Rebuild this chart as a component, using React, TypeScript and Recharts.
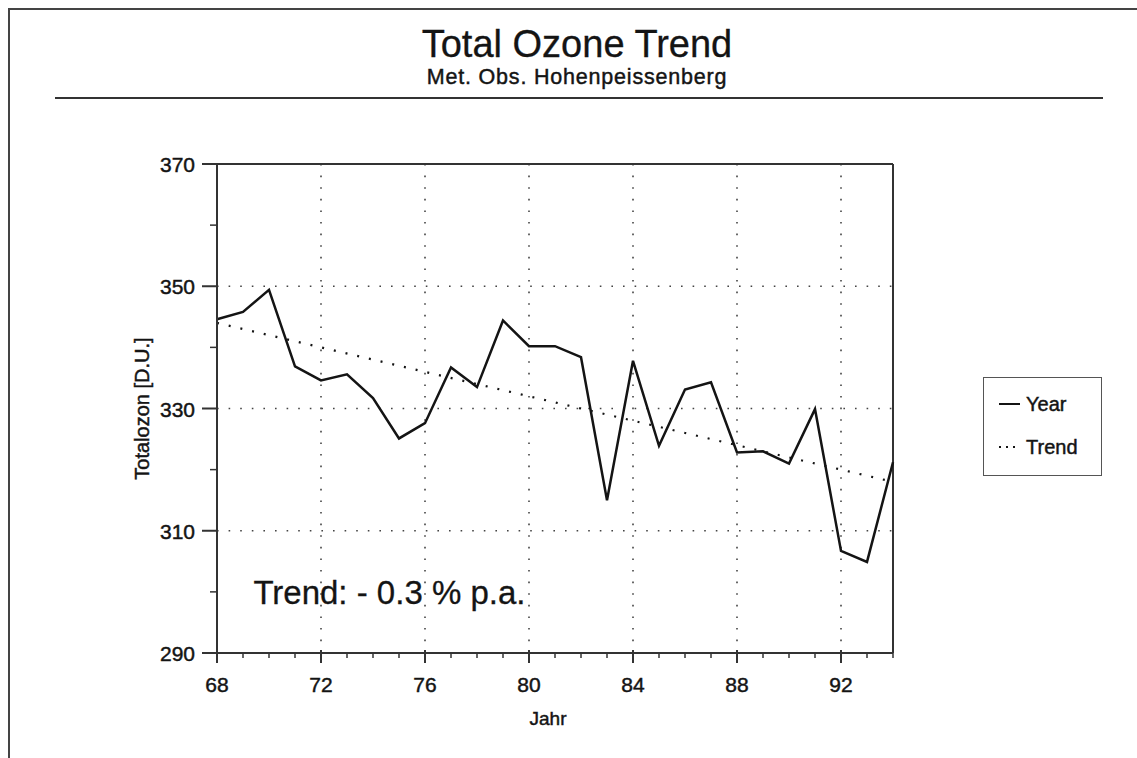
import React from 'react';
import {
  LineChart,
  Line,
  XAxis,
  YAxis,
  CartesianGrid,
  ReferenceLine,
  ReferenceDot,
  Legend,
  Label,
} from 'recharts';

// ---- data ----
const years = [68, 69, 70, 71, 72, 73, 74, 75, 76, 77, 78, 79, 80, 81, 82, 83, 84, 85, 86, 87, 88, 89, 90, 91, 92, 93, 94];
const yearValues = [344.6, 345.8, 349.4, 336.9, 334.6, 335.6, 331.7, 325.1, 327.6, 336.7, 333.5, 344.4, 340.2, 340.2, 338.4, 315.0, 337.8, 323.9, 333.1, 334.3, 322.8, 323.0, 321.0, 329.9, 306.7, 304.9, 321.2];
const trendYears = [68, 94];
const trendValues = [344.0, 318.0];

const xMajorTicks = [68, 72, 76, 80, 84, 88, 92];
const xGridValues = [72, 76, 80, 84, 88, 92];
const yTicks = [290, 300, 310, 320, 330, 340, 350, 360, 370];
const yMajorTicks = [290, 310, 330, 350, 370];
const yGridValues = [310, 330, 350];
const xDomain = [68, 94];
const yDomain = [290, 370];

const titleText = 'Total Ozone Trend';
const subtitleText = 'Met. Obs. Hohenpeissenberg';
const xLabelText = 'Jahr';
const yLabelText = 'Totalozon [D.U.]';
const annotationText = 'Trend: - 0.3 % p.a.';
const annotationPos = { x: 69.4, y: 298 };
const seriesNames = ['Year', 'Trend'];

const yearData = years.map((y, i) => ({ x: y, v: yearValues[i] }));
const trendData = trendYears.map((y, i) => ({ x: y, v: trendValues[i] }));

const FONT = '"Liberation Sans", Arial, Helvetica, sans-serif';
const INK = '#141414';
const TXT = { fontFamily: FONT, fill: INK, stroke: INK, strokeWidth: 0.45 } as const;

const XTick = (props: any) => {
  const { x, y, payload } = props;
  const major = xMajorTicks.includes(payload.value);
  return (
    <g>
      {major ? (
        <line x1={x} x2={x} y1={y - 3} y2={y + 10} stroke="#333" strokeWidth={2} />
      ) : (
        <line x1={x} x2={x} y1={y} y2={y + 5} stroke="#333" strokeWidth={1.5} />
      )}
      {major && (
        <text x={x} y={y + 39} textAnchor="middle" fontSize={21} {...TXT}>
          {payload.value}
        </text>
      )}
    </g>
  );
};

const YTick = (props: any) => {
  const { x, y, payload } = props;
  const major = yMajorTicks.includes(payload.value);
  return (
    <g>
      {major ? (
        <line x1={x - 15} x2={x} y1={y} y2={y} stroke="#333" strokeWidth={2} />
      ) : (
        <line x1={x - 7} x2={x} y1={y} y2={y} stroke="#333" strokeWidth={1.5} />
      )}
      {major && (
        <text x={x - 22} y={y + 8} textAnchor="end" fontSize={21} {...TXT}>
          {payload.value}
        </text>
      )}
    </g>
  );
};

const LegendBox = (props: any) => {
  const raw = props.payload || [];
  const payload = [...raw].sort(
    (a: any, b: any) => seriesNames.indexOf(a.value) - seriesNames.indexOf(b.value)
  );
  return (
    <div
      style={{
        width: 119,
        height: 99,
        boxSizing: 'border-box',
        border: '1.5px solid #555',
        background: '#fff',
        position: 'relative',
      }}
    >
      <svg width={116} height={96} style={{ position: 'absolute', left: 0, top: 0 }}>
        {payload.map((p: any, i: number) => {
          const cy = 26 + i * 43;
          const dotted = p.value === seriesNames[1];
          return (
            <g key={i}>
              <line
                x1={15}
                x2={36}
                y1={cy}
                y2={cy}
                stroke={INK}
                strokeWidth={2}
                strokeDasharray={dotted ? '2 5' : undefined}
              />
              <text x={42} y={cy + 7} fontSize={20} {...TXT}>
                {p.value}
              </text>
            </g>
          );
        })}
      </svg>
    </div>
  );
};

const AnnotationLabel = (props: any) => {
  const vb = props.viewBox || {};
  const x = (vb.x ?? 0) + (vb.width ?? 0) / 2;
  const y = (vb.y ?? 0) + (vb.height ?? 0) / 2;
  return (
    <text x={x} y={y} fontSize={33} {...TXT} strokeWidth={0.3}>
      {annotationText}
    </text>
  );
};

const YAxisLabel = (props: any) => {
  const vb = props.viewBox || {};
  const cx = (vb.x ?? 0) + 142;
  const cy = (vb.y ?? 0) + (vb.height ?? 0) / 2;
  return (
    <text
      x={cx}
      y={cy}
      transform={`rotate(-90 ${cx} ${cy})`}
      textAnchor="middle"
      dominantBaseline="central"
      fontSize={20}
      {...TXT}
    >
      {yLabelText}
    </text>
  );
};

const XAxisLabel = (props: any) => {
  const vb = props.viewBox || {};
  const cx = (vb.x ?? 0) + (vb.width ?? 0) / 2 - 7;
  const y = (vb.y ?? 0) + 72;
  return (
    <text x={cx} y={y} textAnchor="middle" fontSize={19} {...TXT}>
      {xLabelText}
    </text>
  );
};

export default function App() {
  return (
    <div style={{ position: 'absolute', left: 0, top: 0, width: 1137, height: 758, background: '#fff' }}>
      <svg width={1137} height={758} style={{ position: 'absolute', left: 0, top: 0 }}>
        <path d="M 9 758 L 9 9 L 1137 9" fill="none" stroke="#444" strokeWidth={2} />
        <line x1={55} x2={1103} y1={98} y2={98} stroke="#333" strokeWidth={2} />
        <text x={577} y={57} textAnchor="middle" fontSize={38} {...TXT} strokeWidth={0.3}>
          {titleText}
        </text>
        <text x={577} y={83.5} textAnchor="middle" fontSize={21.5} letterSpacing={0.8} {...TXT}>
          {subtitleText}
        </text>
      </svg>
      <div style={{ position: 'absolute', left: 0, top: 0 }}>
        <LineChart width={1137} height={758} margin={{ top: 164, right: 244, bottom: 0, left: 0 }}>
          <CartesianGrid
            stroke="#444"
            strokeWidth={1.6}
            strokeDasharray="1.6 10"
            horizontalValues={yGridValues}
            verticalValues={xGridValues}
          />
          <XAxis
            dataKey="x"
            type="number"
            domain={xDomain}
            ticks={years}
            allowDecimals={false}
            interval={0}
            height={105}
            tickSize={0}
            tickMargin={0}
            tickLine={false}
            tick={<XTick />}
            stroke="#333"
            strokeWidth={2}
          >
            <Label content={<XAxisLabel />} />
          </XAxis>
          <YAxis
            dataKey="v"
            type="number"
            domain={yDomain}
            ticks={yTicks}
            interval={0}
            width={217}
            tickSize={0}
            tickMargin={0}
            tickLine={false}
            tick={<YTick />}
            stroke="#333"
            strokeWidth={2}
          >
            <Label content={<YAxisLabel />} />
          </YAxis>
          <ReferenceLine y={yDomain[1]} stroke="#333" strokeWidth={2} />
          <ReferenceLine x={xDomain[1]} stroke="#333" strokeWidth={2} />
          <Line
            data={yearData}
            dataKey="v"
            name={seriesNames[0]}
            stroke={INK}
            strokeWidth={2.5}
            dot={false}
            activeDot={false}
            isAnimationActive={false}
            strokeLinejoin="miter"
          />
          <Line
            data={trendData}
            dataKey="v"
            name={seriesNames[1]}
            stroke={INK}
            strokeWidth={2.2}
            strokeDasharray="2 10"
            dot={false}
            activeDot={false}
            isAnimationActive={false}
          />
          <ReferenceDot
            x={annotationPos.x}
            y={annotationPos.y}
            r={0}
            fill="none"
            stroke="none"
            label={<AnnotationLabel />}
          />
          <Legend
            layout="vertical"
            align="center"
            verticalAlign="middle"
            content={<LegendBox />}
            wrapperStyle={{ position: 'absolute', left: 983, top: 377, width: 119, height: 99 }}
          />
        </LineChart>
      </div>
    </div>
  );
}
